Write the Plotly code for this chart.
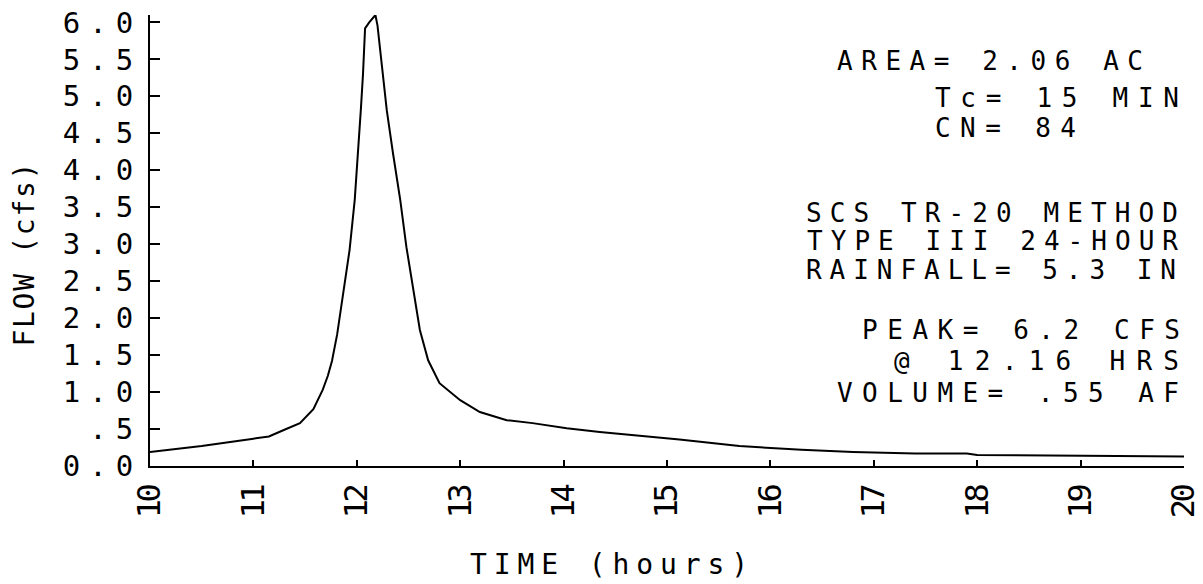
import json
import plotly.graph_objects as go

# ---- data ----
time_hr = [10.0, 10.5, 11.0, 11.15, 11.3, 11.45, 11.58, 11.67, 11.72, 11.76, 11.81,
           11.86, 11.93, 11.98, 12.02, 12.04, 12.06, 12.08, 12.12, 12.18, 12.20,
           12.22, 12.29, 12.35, 12.42, 12.48, 12.51, 12.56, 12.61, 12.69, 12.80,
           13.0, 13.19, 13.45, 13.70, 14.03, 14.35, 15.12, 15.70, 16.3, 16.8,
           17.4, 17.9, 18.0, 19.0, 20.0]
flow_cfs = [0.19, 0.27, 0.37, 0.40, 0.49, 0.58, 0.77, 1.03, 1.22, 1.42, 1.78,
            2.24, 2.92, 3.60, 4.36, 4.84, 5.30, 5.92, 6.00, 6.10, 5.96,
            5.72, 4.81, 4.23, 3.60, 2.96, 2.69, 2.24, 1.84, 1.43, 1.12,
            0.89, 0.73, 0.62, 0.58, 0.51, 0.46, 0.36, 0.27, 0.22, 0.19,
            0.17, 0.17, 0.15, 0.14, 0.13]

y_tick_vals = [0.0, 0.5, 1.0, 1.5, 2.0, 2.5, 3.0, 3.5, 4.0, 4.5, 5.0, 5.5, 6.0]
y_tick_text = ["0.0", ".5", "1.0", "1.5", "2.0", "2.5", "3.0", "3.5", "4.0",
               "4.5", "5.0", "5.5", "6.0"]
x_tick_vals = [10, 11, 12, 13, 14, 15, 16, 17, 18, 19, 20]
x_tick_text = ["10", "11", "12", "13", "14", "15", "16", "17", "18", "19", "20"]

info_lines = ["AREA= 2.06 AC", "Tc= 15 MIN", "CN= 84",
              "SCS TR-20 METHOD", "TYPE III 24-HOUR", "RAINFALL= 5.3 IN",
              "PEAK= 6.2 CFS", "@ 12.16 HRS", "VOLUME= .55 AF"]
x_title = "TIME (hours)"
y_title = "FLOW (cfs)"

# ---- layout geometry (pixels) ----
W, H = 1203, 584
L, R, T, B = 150, 19, 15, 118
PW, PH = W - L - R, H - T - B


def px(x):
    return (x - L) / PW


def py(y):
    return (H - B - y) / PH


# (left, right, vertical centre) of each info line in pixels
info_box = [(835, 1145, 61), (933, 1181, 98), (933, 1078, 128),
            (804, 1180, 213), (805, 1180, 241), (804, 1178, 270),
            (860, 1182, 330), (892, 1181, 361), (835, 1181, 393)]

FONT = "DejaVu Sans Mono"
FS = 26

fig = go.Figure()
fig.add_trace(go.Scatter(x=time_hr, y=flow_cfs, mode="lines",
                         line=dict(color="black", width=2), showlegend=False))

targets = {}
annotations = [dict(text=y_title, x=px(24), y=py(254), xref="paper", yref="paper",
                    xanchor="center", yanchor="middle", textangle=-90,
                    showarrow=False, font=dict(family=FONT, size=28, color="black"))]
targets[0] = 188
for line, (lx, rx, ly) in zip(info_lines, info_box):
    targets[len(annotations)] = rx - lx
    annotations.append(dict(text=line, x=px(lx), y=py(ly), xref="paper", yref="paper",
                            xanchor="left", yanchor="middle", align="left",
                            showarrow=False,
                            font=dict(family=FONT, size=FS, color="black")))
targets[len(annotations)] = 282
annotations.append(dict(text=x_title, x=px(468), y=py(564), xref="paper", yref="paper",
                        xanchor="left", yanchor="middle", align="left",
                        showarrow=False, font=dict(family=FONT, size=28, color="black")))

fig.update_layout(
    width=W, height=H,
    margin=dict(l=L, r=R, t=T, b=B, autoexpand=False),
    paper_bgcolor="white", plot_bgcolor="white",
    annotations=annotations,
    xaxis=dict(range=[10, 20], tickvals=x_tick_vals, ticktext=x_tick_text,
               tickangle=-90, ticks="inside", ticklen=6, tickwidth=2,
               tickcolor="black", showline=True, linecolor="black", linewidth=2,
               showgrid=False, zeroline=False, automargin=False,
               ticklabelstandoff=6,
               tickfont=dict(family=FONT, size=32, color="black")),
    yaxis=dict(range=[0, 6.1], tickvals=y_tick_vals, ticktext=y_tick_text,
               ticks="inside", ticklen=10, tickwidth=2, tickcolor="black",
               showline=True, linecolor="black", linewidth=2,
               showgrid=False, zeroline=False, automargin=False,
               ticklabelstandoff=0,
               tickfont=dict(family=FONT, size=29, color="black")),
)

post = """
var s = document.createElement('style');
s.textContent = '.ytick text{letter-spacing:9px}' +
  '.xtick text{letter-spacing:-3.5px}';
document.head.appendChild(s);
var targets = %s;
document.querySelectorAll('g.annotation').forEach(function(g) {
  var i = g.getAttribute('data-index');
  if (targets[i] === undefined) return;
  var t = g.querySelector('text.annotation-text');
  if (!t) return;
  var w = t.getComputedTextLength();
  var n = t.textContent.length;
  t.style.letterSpacing = ((targets[i] - 4 - w) / (n - 1)) + 'px';
});
""" % json.dumps({str(k): v for k, v in targets.items()})

fig.write_html("out.html", post_script=post)
